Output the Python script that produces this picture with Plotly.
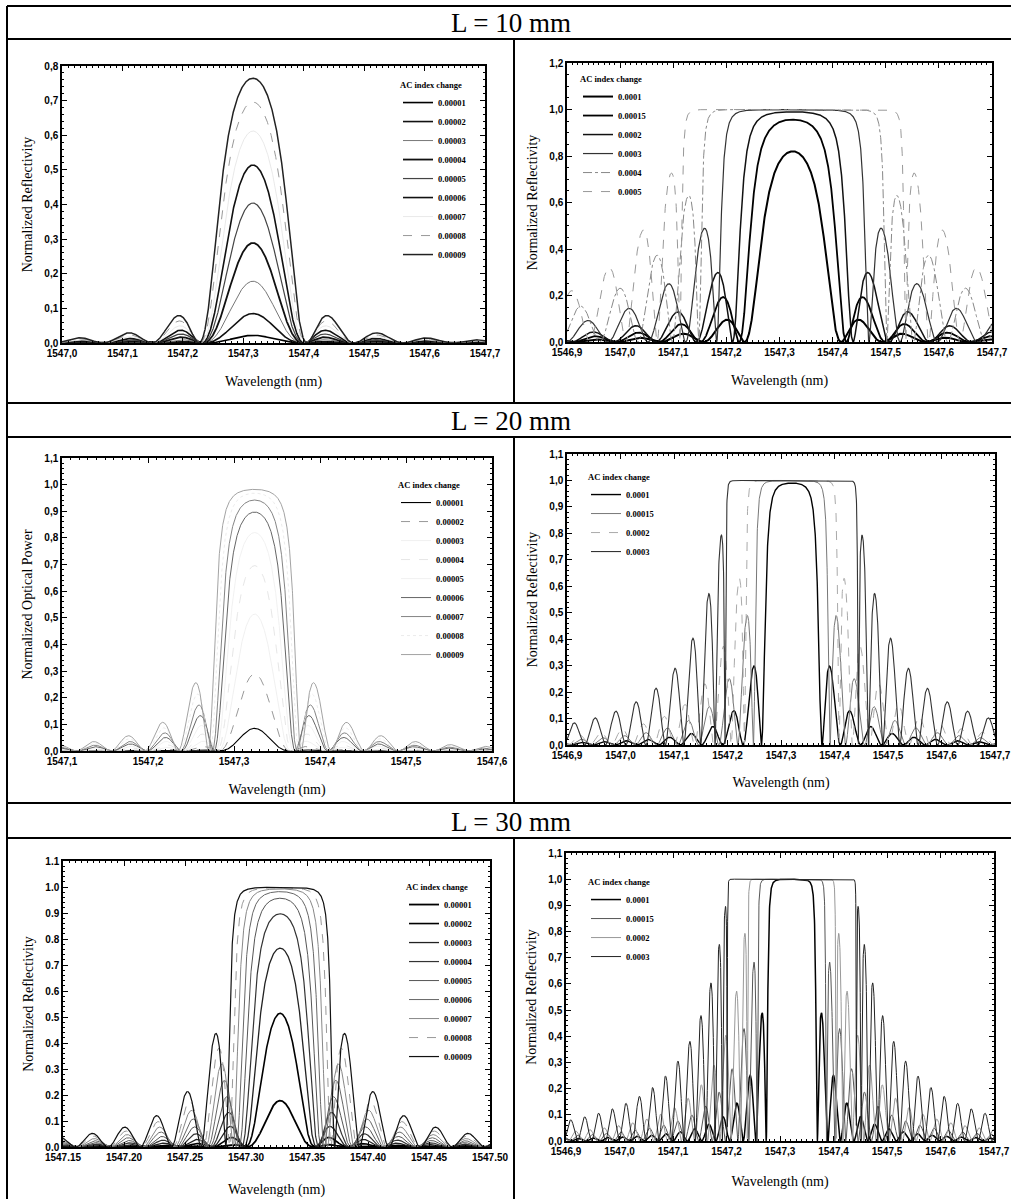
import numpy as np
import plotly.graph_objects as go

W, H = 1011, 1199

# ---------------- data ----------------
# AC index modulation values used in each panel
dn_weak = [0.00001, 0.00002, 0.00003, 0.00004, 0.00005, 0.00006, 0.00007, 0.00008, 0.00009]
dn_weak_labels = ["0.00001", "0.00002", "0.00003", "0.00004", "0.00005",
                  "0.00006", "0.00007", "0.00008", "0.00009"]
dn_strong_10 = [0.0001, 0.00015, 0.0002, 0.0003, 0.0004, 0.0005]
dn_strong_10_labels = ["0.0001", "0.00015", "0.0002", "0.0003", "0.0004", "0.0005"]
dn_strong = [0.0001, 0.00015, 0.0002, 0.0003]
dn_strong_labels = ["0.0001", "0.00015", "0.0002", "0.0003"]

# grating length (mm) and Bragg wavelength (nm) of each panel
grating_length_mm = [10, 10, 20, 20, 30, 30]
bragg_nm = [1547.316, 1547.325, 1547.324, 1547.32, 1547.328, 1547.322]

# fibre constants
N_EFF = 1.46      # effective index
ETA = 0.74        # mode overlap factor in the coupling coefficient

# axis ranges and tick labels
x_ranges = [[1547.0, 1547.7], [1546.9, 1547.7], [1547.1, 1547.6],
            [1546.9, 1547.7], [1547.15, 1547.50], [1546.9, 1547.7]]
y_ranges = [[0, 0.8], [0, 1.2], [0, 1.1], [0, 1.1], [0, 1.1], [0, 1.1]]

x_tickvals = [
    [1547.0, 1547.1, 1547.2, 1547.3, 1547.4, 1547.5, 1547.6, 1547.7],
    [1546.9, 1547.0, 1547.1, 1547.2, 1547.3, 1547.4, 1547.5, 1547.6, 1547.7],
    [1547.1, 1547.2, 1547.3, 1547.4, 1547.5, 1547.6],
    [1546.9, 1547.0, 1547.1, 1547.2, 1547.3, 1547.4, 1547.5, 1547.6, 1547.7],
    [1547.15, 1547.20, 1547.25, 1547.30, 1547.35, 1547.40, 1547.45, 1547.50],
    [1546.9, 1547.0, 1547.1, 1547.2, 1547.3, 1547.4, 1547.5, 1547.6, 1547.7],
]
x_ticktext = [
    ["1547,0", "1547,1", "1547,2", "1547,3", "1547,4", "1547,5", "1547,6", "1547,7"],
    ["1546,9", "1547,0", "1547,1", "1547,2", "1547,3", "1547,4", "1547,5", "1547,6", "1547,7"],
    ["1547,1", "1547,2", "1547,3", "1547,4", "1547,5", "1547,6"],
    ["1546,9", "1547,0", "1547,1", "1547,2", "1547,3", "1547,4", "1547,5", "1547,6", "1547,7"],
    ["1547.15", "1547.20", "1547.25", "1547.30", "1547.35", "1547.40", "1547.45", "1547.50"],
    ["1546,9", "1547,0", "1547,1", "1547,2", "1547,3", "1547,4", "1547,5", "1547,6", "1547,7"],
]
y_tickvals = [
    [0, 0.1, 0.2, 0.3, 0.4, 0.5, 0.6, 0.7, 0.8],
    [0, 0.2, 0.4, 0.6, 0.8, 1.0, 1.2],
    [0, 0.1, 0.2, 0.3, 0.4, 0.5, 0.6, 0.7, 0.8, 0.9, 1.0, 1.1],
    [0, 0.1, 0.2, 0.3, 0.4, 0.5, 0.6, 0.7, 0.8, 0.9, 1.0, 1.1],
    [0, 0.1, 0.2, 0.3, 0.4, 0.5, 0.6, 0.7, 0.8, 0.9, 1.0, 1.1],
    [0, 0.1, 0.2, 0.3, 0.4, 0.5, 0.6, 0.7, 0.8, 0.9, 1.0, 1.1],
]
y_ticktext = [
    ["0,0", "0,1", "0,2", "0,3", "0,4", "0,5", "0,6", "0,7", "0,8"],
    ["0,0", "0,2", "0,4", "0,6", "0,8", "1,0", "1,2"],
    ["0,0", "0,1", "0,2", "0,3", "0,4", "0,5", "0,6", "0,7", "0,8", "0,9", "1,0", "1,1"],
    ["0,0", "0,1", "0,2", "0,3", "0,4", "0,5", "0,6", "0,7", "0,8", "0,9", "1,0", "1,1"],
    ["0.0", "0.1", "0.2", "0.3", "0.4", "0.5", "0.6", "0.7", "0.8", "0.9", "1.0", "1.1"],
    ["0,0", "0,1", "0,2", "0,3", "0,4", "0,5", "0,6", "0,7", "0,8", "0,9", "1,0", "1,1"],
]
x_minor = [0.01, 0.01, 0.01, 0.01, 0.005, 0.01]
y_minor = [0.02, 0.05, 0.02, 0.02, 0.02, 0.02]

y_titles = ["Normalized Reflectivity", "Normalized Reflectivity", "Normalized Optical Power",
            "Normalized Reflectivity", "Normalized Reflectivity", "Normalized Reflectivity"]
row_titles = ["L = 10 mm", "L = 20 mm", "L = 30 mm"]

panel_dn = [dn_weak, dn_strong_10, dn_weak, dn_strong, dn_weak, dn_strong]
panel_labels = [dn_weak_labels, dn_strong_10_labels, dn_weak_labels,
                dn_strong_labels, dn_weak_labels, dn_strong_labels]

# ---------------- styles ----------------
# (colour, width, dash) for each curve of each panel
panel_styles = [
    [("#000", 1.6, "solid"), ("#111", 1.6, "solid"), ("#777", 1.0, "solid"),
     ("#111", 1.8, "solid"), ("#444", 1.2, "solid"), ("#111", 1.6, "solid"),
     ("#e3e3e3", 0.8, "solid"), ("#999", 1.0, "dash"), ("#222", 1.5, "solid")],
    [("#000", 2.0, "solid"), ("#000", 1.8, "solid"), ("#111", 1.5, "solid"),
     ("#333", 1.2, "solid"), ("#888", 1.0, "dashdot"), ("#999", 1.0, "dash")],
    [("#000", 1.1, "solid"), ("#999", 1.0, "dash"), ("#ececec", 0.8, "solid"),
     ("#e0e0e0", 0.8, "dash"), ("#eeeeee", 0.8, "solid"), ("#555", 0.9, "solid"),
     ("#777", 0.9, "solid"), ("#e6e6e6", 0.8, "dot"), ("#999", 0.9, "solid")],
    [("#000", 1.4, "solid"), ("#777", 1.0, "solid"), ("#aaa", 1.0, "dash"),
     ("#333", 1.1, "solid")],
    [("#000", 1.8, "solid"), ("#000", 1.6, "solid"), ("#222", 1.3, "solid"),
     ("#333", 1.2, "solid"), ("#555", 1.0, "solid"), ("#666", 1.0, "solid"),
     ("#888", 1.0, "solid"), ("#999", 1.0, "dash"), ("#111", 1.2, "solid")],
    [("#000", 1.5, "solid"), ("#555", 1.0, "solid"), ("#999", 1.0, "solid"),
     ("#222", 1.0, "solid")],
]

# plot-area boxes in pixels: (left, top, right, bottom)
boxes = [
    (62, 66, 485, 343), (567, 63, 992, 342),
    (62, 458, 492, 751), (567, 454, 995, 745),
    (63, 861, 490, 1147), (566, 853, 994, 1141),
]
x_title_standoff = [18, 18, 18, 17, 22, 20]
# legend anchor (left, top) in pixels
legend_pos = [(398, 77), (578, 71), (396, 477), (586, 469), (404, 879), (586, 874)]


def reflectivity(wl_nm, dn, length_mm, lb_nm):
    """Uniform fibre Bragg grating reflectivity from coupled-mode theory."""
    lam = wl_nm * 1e-9
    lb = lb_nm * 1e-9
    L = length_mm * 1e-3
    kappa = np.pi * ETA * dn / lb
    delta = 2 * np.pi * N_EFF * (1.0 / lam - 1.0 / lb)
    s = np.sqrt(kappa ** 2 - delta ** 2 + 0j)
    sh = np.sinh(s * L)
    ch = np.cosh(s * L)
    num = kappa ** 2 * np.abs(sh) ** 2
    den = np.abs(s * ch) ** 2 + delta ** 2 * np.abs(sh) ** 2
    with np.errstate(invalid="ignore", divide="ignore"):
        r = num / den
    edge = (kappa * L) ** 2 / (1 + (kappa * L) ** 2)
    return np.where(np.isfinite(r), r, edge)


def px_x(v):
    return v / W


def px_y(v):
    return 1 - v / H


fig = go.Figure()
layout_axes = {}
legends = {}

tick_font = dict(family="Liberation Sans", size=10, color="black", weight="bold")
title_font = dict(family="Liberation Serif", size=14, color="black")
legend_font = dict(family="Liberation Serif", size=8.5, color="black", weight="bold")

for p in range(6):
    sfx = "" if p == 0 else str(p + 1)
    xa, ya = "x" + sfx, "y" + sfx
    leg = "legend" + sfx
    wl = np.linspace(x_ranges[p][0], x_ranges[p][1], 3200)
    for dn, lab, (col, lw, dash) in zip(panel_dn[p], panel_labels[p], panel_styles[p]):
        fig.add_trace(go.Scatter(
            x=wl, y=reflectivity(wl, dn, grating_length_mm[p], bragg_nm[p]),
            mode="lines", name=lab,
            line=dict(color=col, width=lw, dash=dash),
            xaxis=xa, yaxis=ya, legend=leg, hoverinfo="skip",
        ))

    l, t, r, b = boxes[p]
    common = dict(showline=True, linecolor="black", linewidth=1.5, mirror="ticks",
                  ticks="inside", ticklen=5, tickwidth=1.2, tickcolor="black",
                  showgrid=False, zeroline=False, tickfont=tick_font, tickmode="array")
    layout_axes["xaxis" + sfx] = dict(
        common, domain=[px_x(l), px_x(r)], range=x_ranges[p], anchor=ya,
        tickvals=x_tickvals[p], ticktext=x_ticktext[p],
        minor=dict(ticks="inside", ticklen=2.5, tickwidth=1, tickcolor="black",
                   dtick=x_minor[p], tick0=x_ranges[p][0], showgrid=False),
        title=dict(text="Wavelength (nm)", font=title_font, standoff=x_title_standoff[p]),
    )
    layout_axes["yaxis" + sfx] = dict(
        common, domain=[px_y(b), px_y(t)], range=y_ranges[p], anchor=xa,
        tickvals=y_tickvals[p], ticktext=y_ticktext[p],
        minor=dict(ticks="inside", ticklen=2.5, tickwidth=1, tickcolor="black",
                   dtick=y_minor[p], tick0=0, showgrid=False),
        title=dict(text=y_titles[p], font=title_font, standoff=8),
    )
    lx, ly = legend_pos[p]
    legends[leg] = dict(
        x=px_x(lx), y=px_y(ly), xanchor="left", yanchor="top",
        xref="paper", yref="paper",
        bgcolor="rgba(0,0,0,0)", borderwidth=0,
        font=legend_font,
        title=dict(text="AC index change", font=legend_font),
        itemwidth=30, tracegroupgap=0,
    )

# table frame
frame_lines = []


def hline(y, x0=7, x1=1011, w=2):
    frame_lines.append(dict(type="line", xref="paper", yref="paper",
                            x0=px_x(x0), x1=px_x(x1), y0=px_y(y), y1=px_y(y),
                            line=dict(color="black", width=w)))


def vline(x, y0, y1, w=2):
    frame_lines.append(dict(type="line", xref="paper", yref="paper",
                            x0=px_x(x), x1=px_x(x), y0=px_y(y0), y1=px_y(y1),
                            line=dict(color="black", width=w)))


vline(7, 6, 1199)
header_rows = [(6, 39), (403, 437), (803, 838)]
row_bottoms = [403, 803, 1199]
for (ht, hb), rb in zip(header_rows, row_bottoms):
    hline(ht)
    hline(hb)
    vline(514, hb, rb)

annotations = []
for (ht, hb), txt in zip(header_rows, row_titles):
    annotations.append(dict(text=txt, x=px_x(511), y=px_y((ht + hb) / 2 + 1),
                            xref="paper", yref="paper",
                            showarrow=False, xanchor="center", yanchor="middle",
                            font=dict(family="Liberation Serif", size=27, color="black")))

fig.update_layout(
    template="none",
    font=dict(family="Liberation Serif", color="black"),
    width=W, height=H, margin=dict(l=0, r=0, t=0, b=0),
    paper_bgcolor="white", plot_bgcolor="white",
    showlegend=True, shapes=frame_lines, annotations=annotations,
    **layout_axes, **legends,
)

fig.write_html("out.html", post_script="document.body.style.margin='0';")
